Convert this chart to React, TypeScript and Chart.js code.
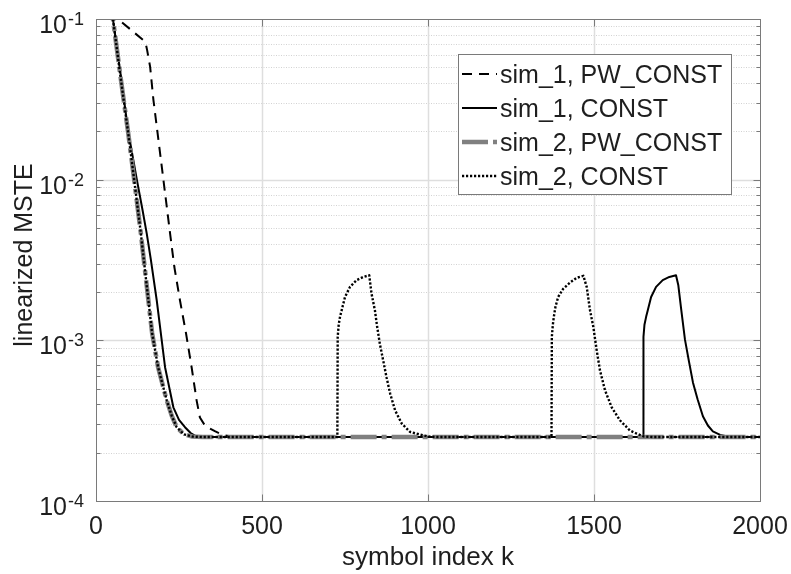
import React, { useEffect, useRef } from "react";
import { Chart, registerables } from "chart.js";

Chart.register(...registerables);

// ---- axes / labels ----
const X_TICKS = [0, 500, 1000, 1500, 2000];
const Y_DECADES = [1e-4, 1e-3, 1e-2, 1e-1];
const Y_MINOR_MULTIPLIERS = [2, 3, 4, 5, 6, 7, 8, 9];
const X_TITLE = "symbol index k";
const Y_TITLE = "linearized MSTE";
const SERIES_NAMES = ["sim_1, PW_CONST", "sim_1, CONST", "sim_2, PW_CONST", "sim_2, CONST"];

// ---- series: sim_1, PW_CONST (dashed) ----
const sim1PwK = [0, 66, 142, 150, 154, 163, 173, 203, 223, 236, 253, 271, 288, 303, 313, 325, 340, 358, 375, 390, 420, 2000];
const sim1PwV = [0.13, 0.1, 0.074, 0.07, 0.064, 0.0505, 0.0313, 0.01, 0.00465, 0.00286, 0.00177, 0.00111, 0.00068, 0.000423, 0.000331, 0.000302, 0.000285, 0.000272, 0.000262, 0.000256, 0.00025, 0.00025];

// ---- series: sim_1, CONST (solid) ----
const sim1ConstK = [40, 51, 75, 97, 123, 140, 153, 165, 183, 208, 233, 250, 268, 285, 303, 340, 1648, 1649, 1652, 1657, 1662, 1672, 1687, 1707, 1727, 1747, 1754, 1762, 1774, 1786, 1798, 1812, 1828, 1843, 1858, 1880, 1910, 2000];
const sim1ConstV = [0.14, 0.1, 0.044, 0.02, 0.01, 0.0065, 0.0046, 0.0032, 0.00177, 0.00068, 0.000383, 0.00032, 0.000288, 0.000265, 0.000252, 0.00025, 0.00025, 0.00105, 0.00125, 0.0014, 0.00154, 0.00186, 0.00215, 0.00237, 0.00248, 0.00254, 0.0022, 0.0016, 0.00101, 0.00074, 0.000547, 0.00043, 0.000337, 0.000295, 0.000271, 0.000258, 0.00025, 0.00025];

// ---- series: sim_2, PW_CONST (thick grey dash-dot) ----
const sim2PwK = [40, 51, 75, 97, 115, 135, 152, 169, 187, 213, 228, 243, 265, 290, 320, 2000];
const sim2PwV = [0.14, 0.1, 0.042, 0.0195, 0.01, 0.00465, 0.00226, 0.00111, 0.00068, 0.000423, 0.00034, 0.000288, 0.00026, 0.000252, 0.00025, 0.00025];

// ---- series: sim_2, CONST (dotted) ----
const sim2ConstK = [40, 51, 75, 97, 115, 135, 152, 169, 187, 213, 228, 243, 265, 290, 320, 727, 728, 731, 735, 740, 750, 765, 785, 805, 823, 830, 840, 847, 855, 865, 875, 886, 901, 921, 946, 976, 1000, 1030, 1372, 1373, 1376, 1379, 1384, 1392, 1407, 1428, 1448, 1468, 1478, 1488, 1498, 1508, 1518, 1533, 1553, 1578, 1608, 1628, 1650, 1680, 2000];
const sim2ConstV = [0.14, 0.1, 0.042, 0.0195, 0.01, 0.00465, 0.00226, 0.00111, 0.00068, 0.000423, 0.00034, 0.000288, 0.00026, 0.000252, 0.00025, 0.00025, 0.00105, 0.00125, 0.0014, 0.00154, 0.00186, 0.00215, 0.00237, 0.00248, 0.00254, 0.00195, 0.00154, 0.00121, 0.00095, 0.00075, 0.00059, 0.000466, 0.000366, 0.000303, 0.000269, 0.000259, 0.000252, 0.00025, 0.00025, 0.00105, 0.00125, 0.0014, 0.00162, 0.00186, 0.00209, 0.00229, 0.00245, 0.00252, 0.00215, 0.00154, 0.00121, 0.00087, 0.00065, 0.00049, 0.000384, 0.000318, 0.000275, 0.000263, 0.000252, 0.00025, 0.00025];

const FONT = '"Liberation Sans", Arial, Helvetica, sans-serif';
const TEXT_COLOR = "#1e1e1e";
const AXIS_COLOR = "#7a7a7a";

const toPoints = (ks: number[], vs: number[]) => ks.map((k, i) => ({ x: k, y: vs[i] }));

const isDecade = (v: number) => {
  const l = Math.log10(v);
  return Math.abs(l - Math.round(l)) < 1e-9;
};

const axesPlugin = {
  id: "matlabAxes",
  beforeDatasetsDraw(chart: any) {
    const { ctx, chartArea: a, scales } = chart;
    const x = scales.x;
    const y = scales.y;
    ctx.save();
    for (const t of y.ticks) {
      const p = Math.round(y.getPixelForValue(t.value)) + 0.5;
      if (p <= a.top + 1 || p >= a.bottom - 1) continue;
      const major = isDecade(t.value);
      ctx.beginPath();
      ctx.strokeStyle = major ? "#dedede" : "#d2d2d2";
      ctx.lineWidth = major ? 1.5 : 1;
      ctx.setLineDash(major ? [] : [1, 1.5]);
      ctx.moveTo(a.left, p);
      ctx.lineTo(a.right, p);
      ctx.stroke();
    }
    ctx.setLineDash([]);
    for (const t of x.ticks) {
      const p = Math.round(x.getPixelForValue(t.value)) + 0.5;
      if (p <= a.left + 1 || p >= a.right - 1) continue;
      ctx.beginPath();
      ctx.strokeStyle = "#dedede";
      ctx.lineWidth = 1.5;
      ctx.moveTo(p, a.top);
      ctx.lineTo(p, a.bottom);
      ctx.stroke();
    }
    ctx.restore();
  },
  afterDatasetsDraw(chart: any) {
    const { ctx, chartArea: a, scales } = chart;
    const x = scales.x;
    const y = scales.y;
    ctx.save();
    ctx.setLineDash([]);
    const L = Math.round(a.left) + 0.5;
    const R = Math.round(a.right) + 0.5;
    const T = Math.round(a.top) + 0.5;
    const B = Math.round(a.bottom) + 0.5;
    ctx.strokeStyle = AXIS_COLOR;
    ctx.lineWidth = 1;
    ctx.strokeRect(L, T, R - L, B - T);
    ctx.beginPath();
    for (const t of y.ticks) {
      const p = Math.round(y.getPixelForValue(t.value)) + 0.5;
      const len = isDecade(t.value) ? 7 : 4;
      ctx.moveTo(L, p);
      ctx.lineTo(L + len, p);
      ctx.moveTo(R, p);
      ctx.lineTo(R - len, p);
    }
    for (const t of x.ticks) {
      const p = Math.round(x.getPixelForValue(t.value)) + 0.5;
      ctx.moveTo(p, B);
      ctx.lineTo(p, B - 7);
      ctx.moveTo(p, T);
      ctx.lineTo(p, T + 7);
    }
    ctx.stroke();

    ctx.fillStyle = TEXT_COLOR;
    ctx.font = `25px ${FONT}`;
    ctx.textAlign = "center";
    ctx.textBaseline = "alphabetic";
    for (const t of x.ticks) {
      const p = x.getPixelForValue(t.value);
      ctx.fillText(String(t.value), p, a.bottom + 33);
    }
    for (const t of y.ticks) {
      if (!isDecade(t.value)) continue;
      const p = y.getPixelForValue(t.value);
      const exp = Math.round(Math.log10(t.value));
      ctx.font = `25px ${FONT}`;
      ctx.textAlign = "right";
      ctx.fillText("10", 67, p + 14);
      ctx.font = `18px ${FONT}`;
      ctx.textAlign = "left";
      ctx.fillText(String(exp), 68, p + 6);
    }
    ctx.font = `26px ${FONT}`;
    ctx.textAlign = "center";
    ctx.fillText(X_TITLE, (a.left + a.right) / 2, 565);
    ctx.save();
    ctx.translate(32, (a.top + a.bottom) / 2 - 5);
    ctx.rotate(-Math.PI / 2);
    ctx.font = `25px ${FONT}`;
    ctx.fillText(Y_TITLE, 0, 0);
    ctx.restore();

    const lx = 458, ly = 54, lw = 273, lh = 140;
    ctx.fillStyle = "#ffffff";
    ctx.fillRect(lx, ly, lw, lh);
    ctx.strokeStyle = AXIS_COLOR;
    ctx.lineWidth = 1;
    ctx.strokeRect(lx + 0.5, ly + 0.5, lw, lh);
    chart.data.datasets.forEach((ds: any, i: number) => {
      const cy = 74 + i * 34;
      ctx.beginPath();
      ctx.strokeStyle = ds.borderColor;
      ctx.lineWidth = ds.borderWidth;
      ctx.setLineDash(ds.borderDash || []);
      ctx.lineCap = "butt";
      ctx.moveTo(462, cy);
      ctx.lineTo(497, cy);
      ctx.stroke();
      ctx.setLineDash([]);
      ctx.fillStyle = TEXT_COLOR;
      ctx.font = `25px ${FONT}`;
      ctx.textAlign = "left";
      ctx.fillText(ds.label, 500, cy + 9);
    });
    ctx.restore();
  },
};

export default function App() {
  const canvasRef = useRef<HTMLCanvasElement | null>(null);

  useEffect(() => {
    const canvas = canvasRef.current;
    if (!canvas) return;
    const common = {
      pointRadius: 0,
      fill: false,
      tension: 0,
      borderCapStyle: "butt" as const,
      borderJoinStyle: "round" as const,
    };
    const chart = new Chart(canvas, {
      type: "line",
      data: {
        datasets: [
          {
            ...common,
            label: SERIES_NAMES[0],
            data: toPoints(sim1PwK, sim1PwV),
            borderColor: "#000000",
            borderWidth: 2,
            borderDash: [10, 7],
            order: 4,
          },
          {
            ...common,
            label: SERIES_NAMES[1],
            data: toPoints(sim1ConstK, sim1ConstV),
            borderColor: "#000000",
            borderWidth: 2,
            order: 3,
          },
          {
            ...common,
            label: SERIES_NAMES[2],
            data: toPoints(sim2PwK, sim2PwV),
            borderColor: "#808080",
            borderWidth: 4.5,
            borderDash: [26, 5, 5, 5],
            order: 2,
          },
          {
            ...common,
            label: SERIES_NAMES[3],
            data: toPoints(sim2ConstK, sim2ConstV),
            borderColor: "#000000",
            borderWidth: 2.4,
            borderDash: [2.2, 1.8],
            order: 1,
          },
        ],
      },
      options: {
        animation: false,
        responsive: false,
        devicePixelRatio: 1,
        layout: { padding: { top: 19, right: 31, left: 0, bottom: 0 } },
        plugins: { legend: { display: false }, tooltip: { enabled: false } },
        scales: {
          x: {
            type: "linear",
            min: X_TICKS[0],
            max: X_TICKS[X_TICKS.length - 1],
            ticks: { display: false },
            grid: { display: false },
            border: { display: false },
            afterBuildTicks: (s: any) => {
              s.ticks = X_TICKS.map((v) => ({ value: v }));
            },
            afterFit: (s: any) => {
              s.height = 73;
            },
          },
          y: {
            type: "logarithmic",
            min: Y_DECADES[0],
            max: Y_DECADES[Y_DECADES.length - 1],
            ticks: { display: false },
            grid: { display: false },
            border: { display: false },
            afterBuildTicks: (s: any) => {
              const t: { value: number; major: boolean }[] = [];
              Y_DECADES.forEach((d, i) => {
                t.push({ value: d, major: true });
                if (i < Y_DECADES.length - 1) {
                  Y_MINOR_MULTIPLIERS.forEach((m) => t.push({ value: d * m, major: false }));
                }
              });
              s.ticks = t;
            },
            afterFit: (s: any) => {
              s.width = 96;
            },
          },
        },
      } as any,
      plugins: [axesPlugin],
    });
    return () => chart.destroy();
  }, []);

  return (
    <div style={{ position: "fixed", left: 0, top: 0, width: 791, height: 574, background: "#fff" }}>
      <canvas ref={canvasRef} width={791} height={574} style={{ display: "block" }} />
    </div>
  );
}
